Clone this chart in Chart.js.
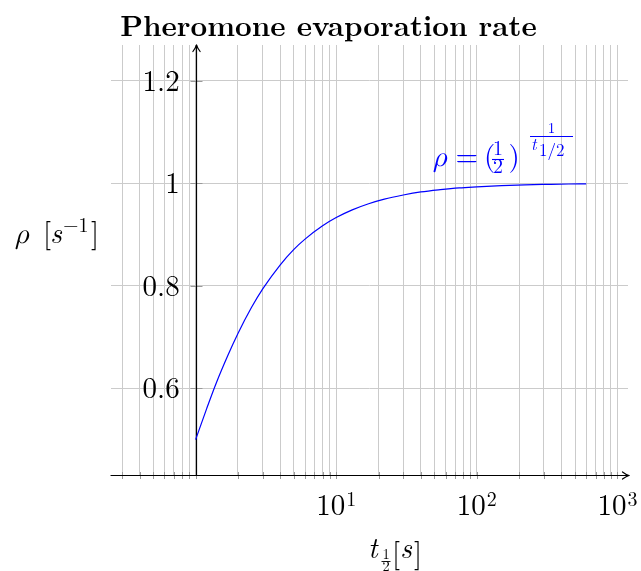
<!DOCTYPE html>
<html>
<head>
<meta charset="utf-8">
<script src="https://cdn.jsdelivr.net/npm/chart.js@4.4.1/dist/chart.umd.min.js"></script>
<style>
  html, body { margin: 0; padding: 0; background: #fff; }
  canvas { display: block; }
</style>
</head>
<body>
<canvas id="c" width="641" height="571"></canvas>
<script>
// ---- data ----
const tHalf = [1, 1.2, 1.4, 1.7, 2, 2.5, 3, 4, 5, 6, 8, 10, 13, 17, 22, 30, 40, 55, 75, 100, 150, 220, 320, 450, 600];
const rho   = [0.500, 0.561, 0.610, 0.665, 0.707, 0.758, 0.794, 0.841, 0.871, 0.891, 0.917, 0.933, 0.948, 0.960, 0.969, 0.977, 0.983, 0.9875, 0.991, 0.993, 0.9954, 0.9969, 0.9978, 0.9985, 0.9988];

const xGridValues = [0.3, 0.4, 0.5, 0.6, 0.7, 0.8, 0.9,
                     1, 2, 3, 4, 5, 6, 7, 8, 9,
                     10, 20, 30, 40, 50, 60, 70, 80, 90,
                     100, 200, 300, 400, 500, 600, 700, 800, 900, 1000];
const xLabelValues = [10, 100, 1000];
const xLabelBases  = ['10', '10', '10'];
const xLabelExps   = ['1', '2', '3'];
const yTickValues  = [0.6, 0.8, 1.0, 1.2];
const yTickLabels  = ['0.6', '0.8', '1', '1.2'];

const chartTitle = 'Pheromone evaporation rate';

const LM = '"Latin Modern Roman"';
const GREEK = '"Latin Modern Math", "Latin Modern Roman", "DejaVu Serif"';
const GRID = '#cbcbcb';
const BLUE = '#0000ff';

function text(ctx, s, x, y, font, align, color) {
  ctx.font = font;
  ctx.textAlign = align || 'left';
  ctx.textBaseline = 'alphabetic';
  ctx.fillStyle = color || '#000';
  ctx.fillText(s, x, y);
}
function hline(ctx, x1, x2, y, color, w) {
  ctx.strokeStyle = color; ctx.lineWidth = w || 1;
  ctx.beginPath(); ctx.moveTo(x1, y); ctx.lineTo(x2, y); ctx.stroke();
}
function arrowHead(ctx, tx, ty, dx, dy) {
  const px = -dy, py = dx, back = 6.5, half = 3.6;
  ctx.beginPath();
  ctx.moveTo(tx - dx * back + px * half, ty - dy * back + py * half);
  ctx.quadraticCurveTo(tx - dx * 2.5 + px * 0.6, ty - dy * 2.5 + py * 0.6, tx, ty);
  ctx.quadraticCurveTo(tx - dx * 2.5 - px * 0.6, ty - dy * 2.5 - py * 0.6,
                       tx - dx * back - px * half, ty - dy * back - py * half);
  ctx.stroke();
}

const decor = {
  id: 'decor',
  beforeDatasetsDraw(chart) {
    const { ctx, chartArea: a, scales: { x, y } } = chart;
    const x0 = Math.round(x.getPixelForValue(1)) + 0.5;
    const yb = Math.round(a.bottom) + 0.5;
    ctx.save();
    ctx.strokeStyle = '#9a9a9a'; ctx.lineWidth = 1;
    x.ticks.forEach(t => {
      const px = Math.round(x.getPixelForValue(t.value)) + 0.5;
      ctx.beginPath(); ctx.moveTo(px, yb - 3.5); ctx.lineTo(px, yb + 3.5); ctx.stroke();
    });
    y.ticks.forEach(t => {
      const py = Math.round(y.getPixelForValue(t.value)) + 0.5;
      ctx.beginPath(); ctx.moveTo(x0 - 6, py); ctx.lineTo(x0 + 6, py); ctx.stroke();
    });
    ctx.strokeStyle = '#000'; ctx.lineWidth = 1.2; ctx.lineCap = 'round'; ctx.lineJoin = 'round';
    ctx.beginPath(); ctx.moveTo(a.left, yb); ctx.lineTo(a.right + 1, yb); ctx.stroke();
    arrowHead(ctx, a.right + 1, yb, 1, 0);
    ctx.beginPath(); ctx.moveTo(x0, a.bottom); ctx.lineTo(x0, a.top); ctx.stroke();
    arrowHead(ctx, x0, a.top, 0, -1);
    ctx.restore();
  },
  afterDraw(chart) {
    const { ctx, scales: { x, y } } = chart;
    const x0 = x.getPixelForValue(1);
    ctx.save();
    // title
    text(ctx, chartTitle, 328.5, 36, 'bold 29px ' + LM, 'center');

    // y tick labels
    yTickValues.forEach((v, i) => {
      const py = y.getPixelForValue(v);
      text(ctx, yTickLabels[i], x0 - 16, py + 10, '29px ' + LM, 'right');
    });

    // x tick labels 10^n
    xLabelValues.forEach((v, i) => {
      const px = x.getPixelForValue(v);
      ctx.font = '29px ' + LM;
      const wb = ctx.measureText(xLabelBases[i]).width;
      ctx.font = '20px ' + LM;
      const we = ctx.measureText(xLabelExps[i]).width;
      const left = px - (wb + we + 1) / 2;
      text(ctx, xLabelBases[i], left, 515, '29px ' + LM, 'left');
      text(ctx, xLabelExps[i], left + wb + 1, 505.5, '20px ' + LM, 'left');
    });

    // x axis title: t_{1/2} [s]
    text(ctx, 't', 368, 558, 'italic 29px ' + LM, 'left');
    text(ctx, '1', 386, 559, '14.5px ' + LM, 'center');
    hline(ctx, 381.5, 390.5, 561.5, '#000', 0.9);
    text(ctx, '2', 386, 570.5, '14.5px ' + LM, 'center');
    text(ctx, '[', 392, 563, '29px ' + LM, 'left');
    text(ctx, 's', 400, 558, 'italic 29px ' + LM, 'left');
    text(ctx, ']', 414, 563, '29px ' + LM, 'left');

    // y axis title: rho [s^{-1}]
    text(ctx, 'ρ', 15, 243, 'italic 29px ' + GREEK, 'left');
    text(ctx, '[', 43, 243, '29px ' + LM, 'left');
    text(ctx, 's', 50, 243, 'italic 29px ' + LM, 'left');
    text(ctx, '−1', 63, 232, '20px ' + LM, 'left');
    text(ctx, ']', 91, 243, '29px ' + LM, 'left');

    // formula annotation
    text(ctx, 'ρ', 433, 166, 'italic 29px ' + GREEK, 'left', BLUE);
    text(ctx, '=', 455.5, 166, '29px ' + LM, 'left', BLUE);
    text(ctx, '(', 484, 166, '29px ' + LM, 'left', BLUE);
    text(ctx, '1', 498, 155, '20px ' + LM, 'center', BLUE);
    hline(ctx, 492, 504, 159.5, BLUE, 1.1);
    text(ctx, '2', 498, 173, '20px ' + LM, 'center', BLUE);
    text(ctx, ')', 508.5, 166, '29px ' + LM, 'left', BLUE);
    text(ctx, '1', 551.5, 133, '15px ' + LM, 'center', BLUE);
    hline(ctx, 530, 573, 136.5, BLUE, 1);
    text(ctx, 't', 531, 150, 'italic 17px ' + LM, 'left', BLUE);
    text(ctx, '1/2', 539, 156, '17px ' + LM, 'left', BLUE);
    ctx.restore();
  }
};

const points = tHalf.map((t, i) => ({ x: t, y: rho[i] }));

new Chart(document.getElementById('c'), {
  type: 'line',
  data: {
    datasets: [{
      data: points,
      borderColor: BLUE,
      borderWidth: 1.2,
      pointRadius: 0,
      fill: false,
      cubicInterpolationMode: 'monotone'
    }]
  },
  options: {
    responsive: false,
    animation: false,
    devicePixelRatio: 1,
    layout: { padding: { left: 111, right: 13, top: 45, bottom: 96 } },
    plugins: { legend: { display: false }, title: { display: false }, tooltip: { enabled: false } },
    scales: {
      x: {
        type: 'logarithmic',
        min: 0.25, max: 1190,
        bounds: 'data',
        afterBuildTicks: s => { s.ticks = xGridValues.map(v => ({ value: v })); },
        afterFit: s => { s.height = 0; },
        ticks: { display: false },
        grid: { color: GRID, lineWidth: 1, drawTicks: false },
        border: { display: false }
      },
      y: {
        type: 'linear',
        min: 0.431, max: 1.2696,
        bounds: 'data',
        afterBuildTicks: s => { s.ticks = yTickValues.map(v => ({ value: v })); },
        afterFit: s => { s.width = 0; },
        ticks: { display: false },
        grid: { color: GRID, lineWidth: 1, drawTicks: false },
        border: { display: false }
      }
    }
  },
  plugins: [decor]
});
</script>
</body>
</html>
